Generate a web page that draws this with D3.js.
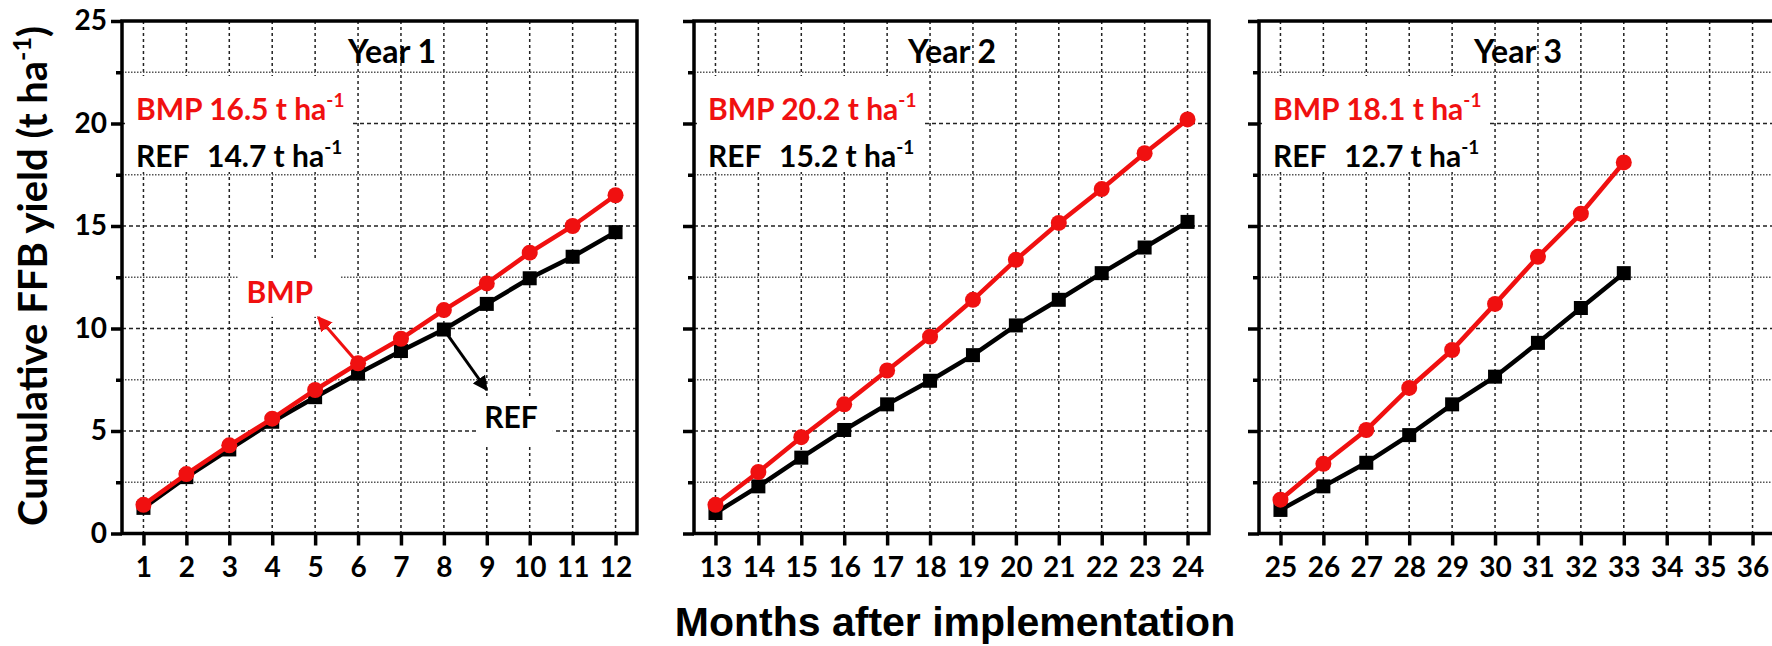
<!DOCTYPE html>
<html>
<head>
<meta charset="utf-8">
<script src="https://cdn.jsdelivr.net/npm/d3@7"></script>
<style>
	body{margin:0;background:#fff;}
	svg{display:block;}
	text{font-family:Lato,"Open Sans",sans-serif;font-weight:bold;}
</style>
</head>
<body>
<svg id="chart" width="1772" height="646"></svg>
<script>

// tick labels (months) for each year panel
var months1 = [1,2,3,4,5,6,7,8,9,10,11,12];
var months2 = [13,14,15,16,17,18,19,20,21,22,23,24];
var months3 = [25,26,27,28,29,30,31,32,33,34,35,36];

// cumulative FFB yield, t/ha
var bmp1 = [1.4,2.9,4.3,5.6,7.0,8.3,9.5,10.9,12.2,13.7,15.0,16.5];
var ref1 = [1.25,2.75,4.1,5.45,6.65,7.8,8.9,9.95,11.2,12.45,13.5,14.7];
var bmp2 = [1.4,3.0,4.7,6.3,7.95,9.6,11.4,13.35,15.15,16.8,18.55,20.2];
var ref2 = [1.0,2.3,3.7,5.05,6.3,7.45,8.7,10.15,11.4,12.7,13.95,15.2];
var bmp3 = [1.65,3.4,5.05,7.1,8.95,11.2,13.5,15.6,18.1];
var ref3 = [1.15,2.3,3.45,4.8,6.3,7.65,9.3,11.0,12.7];

var yearLabels = ['Year 1','Year 2','Year 3'];
var bmpTotals = ['16.5','20.2','18.1'];
var refTotals = ['14.7','15.2','12.7'];

var yTicks = [0,5,10,15,20,25];
var yMinor = [2.5,7.5,12.5,17.5,22.5];

var RED = '#f01010';
var plotTop = 21, plotBottom = 533.5, pw = 515;
var panelLeft = [122, 694, 1259];
var yearDx = [270, 258, 259];

var panels = [
	{months: months1, bmp: bmp1, ref: ref1},
	{months: months2, bmp: bmp2, ref: ref2},
	{months: months3, bmp: bmp3, ref: ref3}
];

var svg = d3.select('#chart');

var defs = svg.append('defs');
[['arrRed', RED], ['arrBlack', '#000']].forEach(function(m){
	defs.append('marker')
	.attr('id', m[0])
	.attr('viewBox', '0 0 10 10')
	.attr('refX', 9).attr('refY', 5)
	.attr('markerUnits', 'userSpaceOnUse')
	.attr('markerWidth', 15).attr('markerHeight', 15)
	.attr('orient', 'auto')
	.append('path')
	.attr('d', 'M0,0 L10,5 L0,10 z')
	.attr('fill', m[1]);
});

var y = d3.scaleLinear().domain([0, 25]).range([plotBottom, plotTop]);

panels.forEach(function(p, i){
	var left = panelLeft[i];
	var m = p.months;
	var x = d3.scaleLinear()
	.domain([m[0] - 0.5, m[m.length - 1] + 0.5])
	.range([left, left + pw]);

	var g = svg.append('g');

	// grid
	g.selectAll('line.vgrid').data(m).enter().append('line')
	.attr('x1', function(d){ return x(d); })
	.attr('x2', function(d){ return x(d); })
	.attr('y1', plotTop).attr('y2', plotBottom)
	.attr('stroke', '#222').attr('stroke-width', 1.5)
	.attr('stroke-dasharray', '3,3');

	g.selectAll('line.hmajor').data(yTicks.slice(1, -1)).enter().append('line')
	.attr('x1', left).attr('x2', left + pw)
	.attr('y1', function(d){ return y(d); })
	.attr('y2', function(d){ return y(d); })
	.attr('stroke', '#222').attr('stroke-width', 1.5)
	.attr('stroke-dasharray', '4,3');

	g.selectAll('line.hminor').data(yMinor).enter().append('line')
	.attr('x1', left).attr('x2', left + pw)
	.attr('y1', function(d){ return y(d); })
	.attr('y2', function(d){ return y(d); })
	.attr('stroke', '#555').attr('stroke-width', 1.3)
	.attr('stroke-dasharray', '1.5,1.5');

	// white box behind the totals
	g.append('rect')
	.attr('x', left + 3).attr('y', 76)
	.attr('width', 228).attr('height', 96)
	.attr('fill', '#fff');

	// axes
	g.append('g')
	.attr('transform', 'translate(0,' + plotBottom + ')')
	.call(d3.axisBottom(x).tickValues(m).tickSize(12).tickSizeOuter(0).tickPadding(12).tickFormat(d3.format('d')))
	.attr('font-size', 28)
	.call(function(s){
		s.select('.domain').remove();
		s.selectAll('line').attr('stroke', '#000').attr('stroke-width', 3.5);
		s.selectAll('text').attr('fill', '#000');
	});

	g.append('g')
	.attr('transform', 'translate(' + left + ',0)')
	.call(d3.axisLeft(y).tickValues(yTicks).tickSize(11).tickSizeOuter(0).tickPadding(4)
		.tickFormat(i == 0 ? d3.format('d') : function(){ return ''; }))
	.attr('font-size', 28)
	.call(function(s){
		s.select('.domain').remove();
		s.selectAll('line').attr('stroke', '#000').attr('stroke-width', 3.5);
		s.selectAll('text').attr('fill', '#000');
	});

	g.append('g')
	.attr('transform', 'translate(' + left + ',0)')
	.call(d3.axisLeft(y).tickValues(yMinor).tickSize(6).tickSizeOuter(0).tickFormat(''))
	.call(function(s){
		s.select('.domain').remove();
		s.selectAll('line').attr('stroke', '#000').attr('stroke-width', 3.5);
	});

	g.append('rect')
	.attr('x', left).attr('y', plotTop)
	.attr('width', pw).attr('height', plotBottom - plotTop)
	.attr('fill', 'none').attr('stroke', '#000').attr('stroke-width', 3.5);

	// year label and totals
	g.append('text')
	.attr('x', left + yearDx[i]).attr('y', 63)
	.attr('text-anchor', 'middle')
	.attr('font-size', 32)
	.text(yearLabels[i]);

	var tb = g.append('text')
	.attr('x', left + 14).attr('y', 120)
	.attr('font-size', 30).attr('fill', RED);
	tb.append('tspan').text('BMP ' + bmpTotals[i] + ' t ha');
	tb.append('tspan').attr('dy', -13).attr('font-size', 19).text('-1');

	var tr = g.append('text')
	.attr('x', left + 14).attr('y', 167)
	.attr('font-size', 30).attr('fill', '#000');
	tr.append('tspan').text('REF');
	tr.append('tspan').attr('x', left + 85).text(refTotals[i] + ' t ha');
	tr.append('tspan').attr('dy', -13).attr('font-size', 19).text('-1');

	p.g = g;
	p.x = x;
});

// panel 1 annotations (boxes first, then arrows, then series on top)
var x1 = panels[0].x, g1 = panels[0].g;
g1.append('rect').attr('x', x1(3.2)).attr('y', y(13.3)).attr('width', 103).attr('height', 56).attr('fill', '#fff');
g1.append('rect').attr('x', x1(8.77)).attr('y', y(6.7)).attr('width', 76).attr('height', 50).attr('fill', '#fff');

g1.append('text').attr('x', x1(3.4)).attr('y', y(11.23)).attr('font-size', 30).attr('fill', RED).text('BMP');
g1.append('text').attr('x', x1(8.94)).attr('y', y(5.15)).attr('font-size', 30).attr('fill', '#000').text('REF');

g1.append('line')
.attr('x1', x1(6)).attr('y1', y(bmp1[5]))
.attr('x2', x1(5.07)).attr('y2', y(10.55))
.attr('stroke', RED).attr('stroke-width', 3)
.attr('marker-end', 'url(#arrRed)');

g1.append('line')
.attr('x1', x1(8)).attr('y1', y(ref1[7]))
.attr('x2', x1(9)).attr('y2', y(7.0))
.attr('stroke', '#000').attr('stroke-width', 3)
.attr('marker-end', 'url(#arrBlack)');

// series
panels.forEach(function(p){
	var x = p.x, g = p.g, m = p.months;
	var line = d3.line()
	.x(function(d, j){ return x(m[j]); })
	.y(function(d){ return y(d); });

	g.append('path').datum(p.ref)
	.attr('d', line).attr('fill', 'none')
	.attr('stroke', '#000').attr('stroke-width', 4.5);
	g.selectAll('rect.ref').data(p.ref).enter().append('rect')
	.attr('class', 'ref')
	.attr('x', function(d, j){ return x(m[j]) - 7; })
	.attr('y', function(d){ return y(d) - 7; })
	.attr('width', 14).attr('height', 14)
	.attr('fill', '#000');

	g.append('path').datum(p.bmp)
	.attr('d', line).attr('fill', 'none')
	.attr('stroke', RED).attr('stroke-width', 4.5);
	g.selectAll('circle.bmp').data(p.bmp).enter().append('circle')
	.attr('class', 'bmp')
	.attr('cx', function(d, j){ return x(m[j]); })
	.attr('cy', function(d){ return y(d); })
	.attr('r', 8)
	.attr('fill', RED);
});

// axis titles
var yt = svg.append('text')
.attr('transform', 'translate(47,276) rotate(-90)')
.attr('text-anchor', 'middle')
.attr('font-size', 40);
yt.append('tspan').text('Cumulative FFB yield (t ha');
yt.append('tspan').attr('dy', -16).attr('font-size', 25).text('-1');
yt.append('tspan').attr('dy', 16).text(')');

svg.append('text')
.attr('x', 955).attr('y', 636)
.attr('text-anchor', 'middle')
.attr('font-size', 41)
.style('font-family', '"Liberation Sans", Arial, sans-serif')
.text('Months after implementation');

</script>
</body>
</html>
